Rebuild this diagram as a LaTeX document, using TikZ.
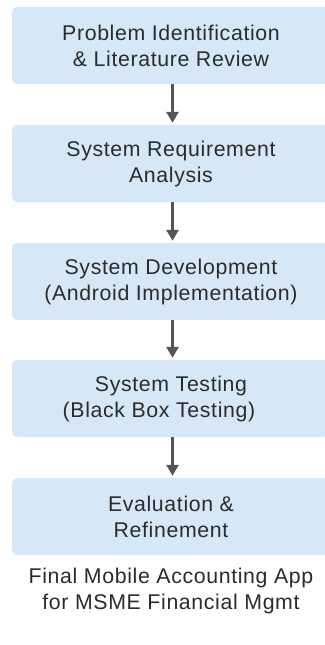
\documentclass[tikz,border=0pt]{standalone}
\usepackage{fontspec}
\setmainfont{Liberation Sans}[LetterSpace=3]
\usetikzlibrary{arrows.meta}
\definecolor{boxfill}{HTML}{D6E8F8}
\definecolor{txt}{HTML}{2B2B2B}
\definecolor{arrcol}{HTML}{555555}
\begin{document}
\begin{tikzpicture}[x=1pt,y=-1pt,
  stepbox/.style={rectangle, rounded corners=5pt, fill=boxfill, minimum width=318pt, minimum height=77pt, align=center, text=txt, font=\fontsize{21.3}{26}\selectfont, inner sep=0pt},
  flow/.style={draw=arrcol, line width=3pt, -{Triangle[width=12pt,length=11pt]}, shorten >=2pt},
  plaintext/.style={align=center, text=txt, font=\fontsize{21.3}{26}\selectfont, inner sep=0pt}]
\useasboundingbox (0,0) rectangle (324,645);
\fill[white] (0,0) rectangle (324,645);
\node[stepbox] (b1) at (171,45.5) {Problem Identification\\\& Literature Review};
\node[stepbox] (b2) at (171,163.5) {System Requirement\\Analysis};
\node[stepbox] (b3) at (171,281.5) {System Development\\(Android Implementation)};
\node[stepbox] (b4) at (171,398.5) {System Testing\\(Black Box Testing)\hspace*{24pt}};
\node[stepbox] (b5) at (171,516.5) {Evaluation \&\\Refinement};
\node[plaintext] (final) at (171,591) {Final Mobile Accounting App\\for MSME Financial Mgmt};
\draw[flow] (b1.south -| 172.5,0) -- (b2.north -| 172.5,0);
\draw[flow] (b2.south -| 172.5,0) -- (b3.north -| 172.5,0);
\draw[flow] (b3.south -| 172.5,0) -- (b4.north -| 172.5,0);
\draw[flow] (b4.south -| 172.5,0) -- (b5.north -| 172.5,0);
\end{tikzpicture}
\end{document}
